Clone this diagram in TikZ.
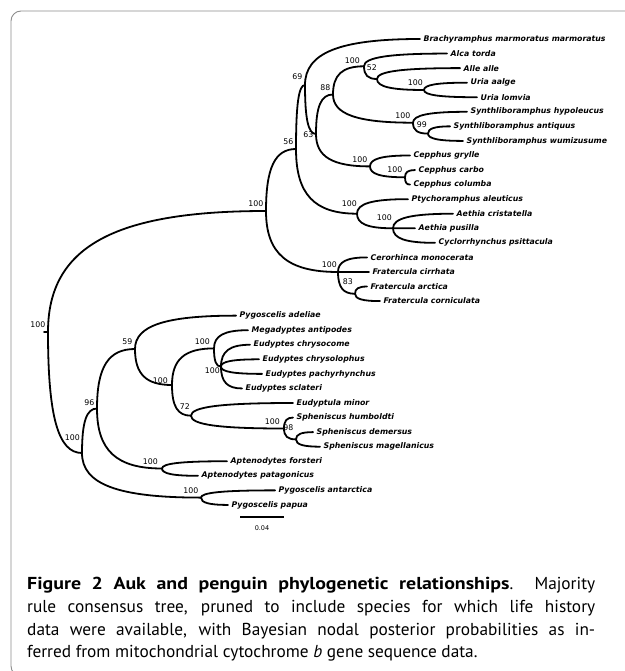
\documentclass[tikz,border=0pt]{standalone}
\usepackage{fontspec}
\usepackage{tikz}
\usetikzlibrary{calc}
\newfontfamily\treefont{DejaVu Sans}
\newfontfamily\capfont{PT Sans}[BoldFeatures={FakeStretch=1.15}]

\begin{document}
\begin{tikzpicture}[x=1pt,y=-1pt,
    branch/.style={line width=1.8pt, line cap=round,
      to path={.. controls ($(\tikztostart)!.7!(\tikztostart|-\tikztotarget)$)
        and ($(\tikztotarget)!.7!(\tikztostart|-\tikztotarget)$) .. (\tikztotarget)}},
    leaf/.style={anchor=west, inner xsep=3.5pt, inner ysep=0pt,
      font=\treefont\bfseries\itshape\fontsize{7.8}{9}\selectfont},
    supp/.style={anchor=south east, inner sep=0pt, xshift=-2.5pt, yshift=4pt,
      font=\treefont\fontsize{7.8}{9}\selectfont},
    frame/.style={draw=black!45, line width=0.9pt, rounded corners=10pt},
    caption/.style={anchor=north west, inner sep=0pt, text width=568pt, align=justify,
      font=\capfont\fontsize{17.3}{22.8}\selectfont}]
  \useasboundingbox (0,0) rectangle (624,671);
  \draw[frame] (640,11) -| (11,676) -- (40,676);

  \foreach \xe/\sp [count=\i] in {420/Brachyramphus marmoratus marmoratus, 447/Alca torda,
      460/Alle alle, 467/Uria aalge, 477/Uria lomvia, 467/Synthliboramphus hypoleucus,
      450/Synthliboramphus antiquus, 463/Synthliboramphus wumizusume, 410/Cepphus grylle,
      415/Cepphus carbo, 410/Cepphus columba, 408/Ptychoramphus aleuticus,
      453/Aethia cristatella, 415/Aethia pusilla, 435/Cyclorrhynchus psittacula,
      367/Cerorhinca monocerata, 369/Fratercula cirrhata, 367/Fratercula arctica,
      380/Fratercula corniculata, 236/Pygoscelis adeliae, 248/Megadyptes antipodes,
      250/Eudyptes chrysocome, 259/Eudyptes chrysolophus, 262/Eudyptes pachyrhynchus,
      242/Eudyptes sclateri, 293/Eudyptula minor, 293/Spheniscus humboldti,
      313/Spheniscus demersus, 320/Spheniscus magellanicus, 227/Aptenodytes forsteri,
      198/Aptenodytes patagonicus, 275/Pygoscelis antarctica, 228/Pygoscelis papua}{
    \coordinate (t\i) at (\xe,{39+14.56*(\i-1)});
    \node[leaf] (s\i) at (t\i) {\sp};
  }

  \coordinate (stub)  at (44,332);
  \coordinate (root)  at (48,332);
  \coordinate (auks)  at (266,211);
  \coordinate (a56)   at (296,149);
  \coordinate (a69)   at (305,85);
  \coordinate (a63)   at (316,134);
  \coordinate (a88)   at (333,94.5);
  \coordinate (alca)  at (364,66.3);
  \coordinate (a52)   at (377,79);
  \coordinate (uria)  at (424,90);
  \coordinate (synth) at (413,122.7);
  \coordinate (a99)   at (428,133.6);
  \coordinate (cepph) at (370,166.4);
  \coordinate (carbo) at (405,177.3);
  \coordinate (ptych) at (357,213.7);
  \coordinate (aeth)  at (393,228.3);
  \coordinate (frat)  at (338,272);
  \coordinate (a83)   at (355,293.8);
  \coordinate (peng)  at (82,453);
  \coordinate (p96)   at (97,408.5);
  \coordinate (pygo)  at (201,497.6);
  \coordinate (p59)   at (135,349);
  \coordinate (apten) at (162,468.5);
  \coordinate (p100)  at (172,385);
  \coordinate (megad) at (214,348.4);
  \coordinate (eudyp) at (221,366.6);
  \coordinate (p72)   at (191,415.7);
  \coordinate (sphen) at (284,428.5);
  \coordinate (p98)   at (296,439.4);

  \draw[branch] (stub) -- (root);
  \foreach \a/\b in {root/auks, root/peng,
      auks/a56, auks/frat, a56/a69, a56/ptych,
      a69/t1, a69/a63, a63/a88, a63/cepph,
      a88/alca, a88/synth, alca/t2, alca/a52, a52/t3, a52/uria, uria/t4, uria/t5,
      synth/t6, synth/a99, a99/t7, a99/t8,
      cepph/t9, cepph/carbo, carbo/t10, carbo/t11,
      ptych/t12, ptych/aeth, aeth/t13, aeth/t14, aeth/t15,
      frat/t16, frat/t17, frat/a83, a83/t18, a83/t19,
      peng/p96, peng/pygo, p96/p59, p96/apten,
      p59/t20, p59/p100, p100/megad, p100/p72,
      megad/t21, megad/eudyp, eudyp/t22, eudyp/t23, eudyp/t24, eudyp/t25,
      p72/t26, p72/sphen, sphen/t27, sphen/p98, p98/t28, p98/t29,
      apten/t30, apten/t31, pygo/t32, pygo/t33}
    \draw[branch] (\a) to (\b);

  \node[supp]                                   at (root)  {100};
  \node[supp]                                   at (auks)  {100};
  \node[supp]                                   at (a56)   {56};
  \node[supp, yshift=1pt]                       at (a69)   {69};
  \node[supp, anchor=east, yshift=-5pt]         at (a63)   {63};
  \node[supp]                                   at (a88)   {88};
  \node[supp, xshift=-1.5pt, yshift=-1.5pt]     at (alca)  {100};
  \node[supp, xshift=2.5pt, yshift=4pt]         at (a52)   {52};
  \node[supp, xshift=1.5pt]                     at (uria)  {100};
  \node[supp]                                   at (synth) {100};
  \node[supp, xshift=1.5pt, yshift=2pt]         at (a99)   {99};
  \node[supp]                                   at (cepph) {100};
  \node[supp]                                   at (carbo) {100};
  \node[supp, xshift=2.5pt, yshift=3pt]         at (ptych) {100};
  \node[supp, xshift=1.5pt, yshift=3.5pt]       at (aeth)  {100};
  \node[supp, xshift=1.5pt]                     at (frat)  {100};
  \node[supp, xshift=0.5pt, yshift=5pt]         at (a83)   {83};
  \node[supp, xshift=0.5pt, yshift=8pt]         at (peng)  {100};
  \node[supp, yshift=-1.3pt]                    at (p96)   {96};
  \node[supp]                                   at (pygo)  {100};
  \node[supp]                                   at (p59)   {59};
  \node[supp, xshift=-1.5pt]                    at (apten) {100};
  \node[supp, xshift=-1.5pt, yshift=-3pt]       at (p100)  {100};
  \node[supp, xshift=-1.5pt]                    at (megad) {100};
  \node[supp, anchor=east, xshift=1.5pt, yshift=-8.4pt] at (eudyp) {100};
  \node[supp, xshift=1.5pt, yshift=2pt]         at (p72)   {72};
  \node[supp, xshift=-1.5pt]                    at (sphen) {100};
  \node[supp, yshift=4.5pt]                     at (p98)   {98};

  \coordinate (bar1) at (240,517);
  \coordinate (bar2) at (284,517);
  \draw[line width=1.8pt] (bar1) -- (bar2);
  \node[font=\treefont\fontsize{6.5}{8}\selectfont] (barlabel) at (262,528) {0.04};

  \node[caption] (cap) at (27,577) {\tolerance=9999
    {\bfseries Figure 2 Auk and penguin phylogenetic relationships}. Majority\linebreak
    rule consensus tree, pruned to include species for which life history\linebreak
    data were available, with Bayesian nodal posterior probabilities as in-\linebreak
    ferred from mitochondrial cytochrome \emph{b} gene sequence data.};
\end{tikzpicture}
\end{document}
